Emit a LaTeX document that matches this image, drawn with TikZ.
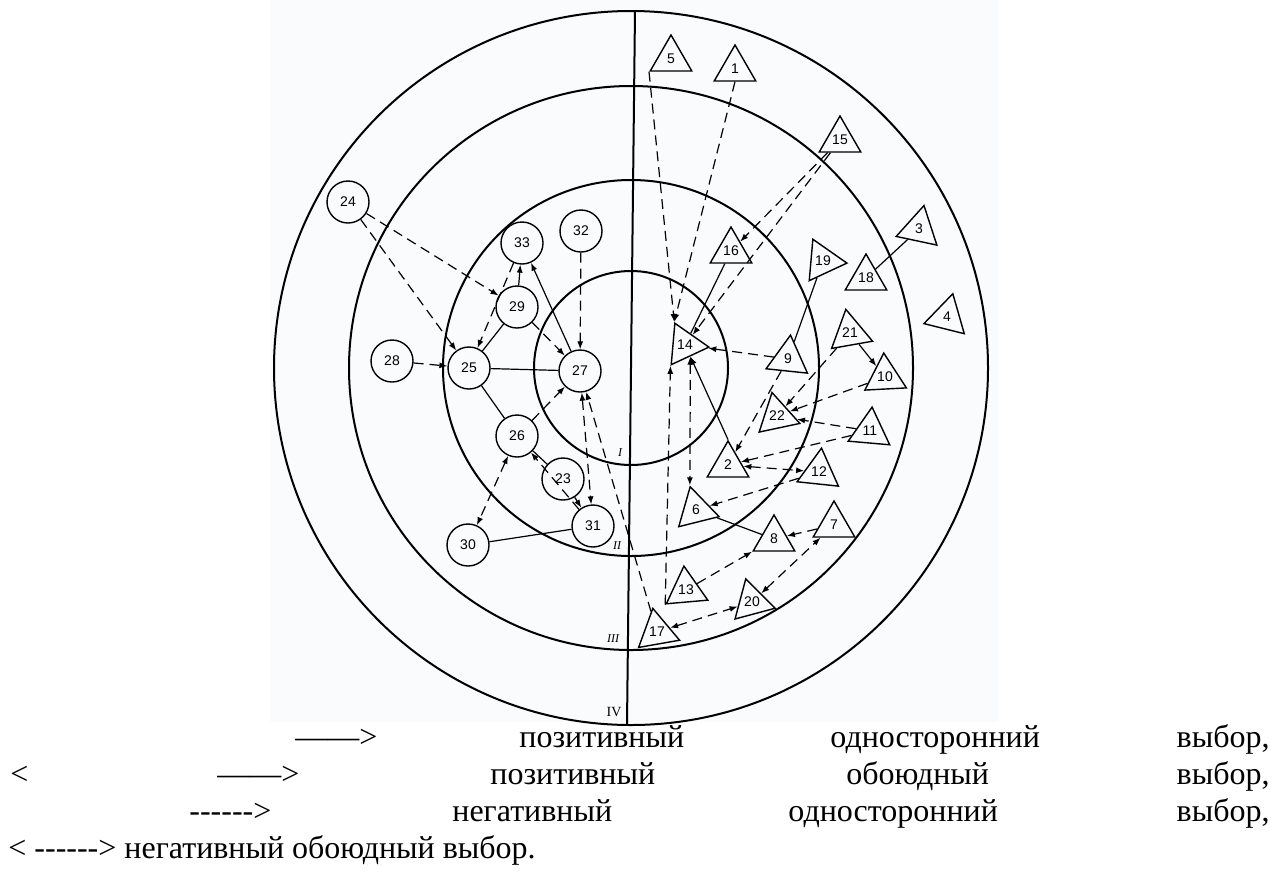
\documentclass[tikz,border=0pt]{standalone}
\usepackage{fontspec}
\setmainfont{Liberation Serif}
\newfontfamily\numfont{Liberation Sans}
\usetikzlibrary{arrows.meta,shapes.geometric}
\definecolor{ScanBg}{HTML}{FAFBFC}
\newcommand{\hyph}{-\kern0pt-\kern0pt-\kern0pt-\kern0pt-\kern0pt-\kern0pt>}

\begin{document}
\begin{tikzpicture}[x=0.5pt, y=-0.5pt,
  cnode/.style={circle, draw, line width=0.7pt, minimum size=21pt,
                inner sep=0pt, font=\numfont\fontsize{7}{8}\selectfont},
  tnode/.style={regular polygon, regular polygon sides=3, draw,
                line width=0.7pt, minimum size=24pt, inner sep=0pt,
                shape border rotate=#1, font=\numfont\fontsize{7}{8}\selectfont},
  tnode/.default=0,
  ring/.style={line width=1pt},
  posline/.style={line width=0.6pt},
  negline/.style={line width=0.6pt, dash pattern=on 5pt off 3pt},
  zone/.style={font=\itshape\fontsize{6}{7}\selectfont, inner sep=0pt},
  legend/.style={font=\fontsize{16}{18}\selectfont, inner sep=0pt, anchor=base west},
  >={Latex[length=4pt, width=3pt]}
]
  \useasboundingbox (0,0) rectangle (1273,879);
  \fill[ScanBg] (270,0) rectangle (998,722);

  % zones
  \coordinate (C) at (631,368);
  \draw[ring] (C) circle (97);
  \draw[ring] (C) circle (188);
  \draw[ring] (C) circle (282);
  \draw[ring] (C) circle (357);
  \coordinate (top) at (635,11);
  \coordinate (bot) at (627,724);
  \draw[ring] (top) -- (bot);
  \node[zone] (zI) at (620,453) {I};
  \node[zone] (zII) at (617,546) {II};
  \node[zone] (zIII) at (613,639) {III};
  \node[zone, font=\fontsize{7}{8}\selectfont] (zIV) at (614,712) {IV};

  % circles
  \node[cnode] (c24) at (348,202) {24};
  \node[cnode] (c32) at (581,231) {32};
  \node[cnode] (c33) at (522,243) {33};
  \node[cnode] (c29) at (517,307) {29};
  \node[cnode] (c28) at (392,361) {28};
  \node[cnode] (c25) at (469,368) {25};
  \node[cnode] (c27) at (580,371) {27};
  \node[cnode] (c26) at (517,436) {26};
  \node[cnode] (c23) at (563,479) {23};
  \node[cnode] (c31) at (593,526) {31};
  \node[cnode] (c30) at (468,545) {30};

  % triangles
  \node[tnode] (t5) at (671,59) {5};
  \node[tnode] (t1) at (735,69) {1};
  \node[tnode] (t15) at (840,140) {15};
  \node[tnode] (t16) at (731,251) {16};
  \node[tnode=-12] (t3) at (919,229) {3};
  \node[tnode] (t18) at (866,278) {18};
  \node[tnode=-95] (t19) at (823,261) {19};
  \node[tnode=-14] (t4) at (947,317) {4};
  \node[tnode=-95] (t14) at (685,345) {14};
  \node[tnode=-6] (t9) at (788,359) {9};
  \node[tnode=10] (t21) at (850,333) {21};
  \node[tnode=3] (t10) at (885,377) {10};
  \node[tnode=12] (t22) at (777,416) {22};
  \node[tnode=-5] (t11) at (870,431) {11};
  \node[tnode] (t2) at (728,465) {2};
  \node[tnode=-6] (t12) at (819,472) {12};
  \node[tnode=14] (t6) at (696,510) {6};
  \node[tnode] (t8) at (774,539) {8};
  \node[tnode] (t7) at (834,525) {7};
  \node[tnode=5] (t13) at (686,590) {13};
  \node[tnode=15] (t20) at (752,602) {20};
  \node[tnode=10] (t17) at (657,632) {17};

  % choices among circles
  \draw[negline, ->] (c24) -- (c29);
  \draw[negline, ->] (c24) -- (c25);
  \draw[negline, ->] (c28) -- (c25);
  \draw[negline, ->] (c33) -- (c25);
  \draw[posline, ->] (c29) -- (c33);
  \draw[posline, ->] (c27) -- (c33);
  \draw[posline] (c25) -- (c29);
  \draw[negline, ->] (c29) -- (c27);
  \draw[negline, ->] (c32) -- (c27);
  \draw[posline] (c25) -- (c27);
  \draw[posline] (c25) -- (c26);
  \draw[negline, ->] (c26) -- (c27);
  \draw[posline] (c26) -- (c23);
  \draw[posline, ->] (c23) -- (c31);
  \draw[negline, ->] (c31) -- (c26);
  \draw[negline, <->] (c26) -- (c30);
  \draw[posline] (c30) -- (c31);
  \draw[negline, <->] (c27) -- (c31);
  \draw[negline, ->] (t17) -- (c27);

  % choices among triangles
  \draw[negline, ->] (t5.corner 2) -- (t14.corner 2);
  \draw[negline, ->] (t1.side 2) -- (t14.corner 2);
  \draw[negline, ->] (t15) -- (t16);
  \draw[negline, ->] (t15) -- (t14);
  \draw[posline] (t16) -- (t14);
  \draw[negline, ->] (t9) -- (t14);
  \draw[posline, ->] (t2.corner 1) -- (t14.side 3);
  \draw[negline, ->] (t13.corner 2) -- (t14.corner 3);
  \draw[negline, <->] (t14.side 3) -- (t6.corner 1);
  \draw[posline] (t19) -- (t9);
  \draw[posline] (t18) -- (t3);
  \draw[negline, ->] (t9) -- (t2);
  \draw[posline, ->] (t21) -- (t10);
  \draw[negline, ->] (t21) -- (t22);
  \draw[negline, ->] (t10) -- (t22);
  \draw[negline, ->] (t11) -- (t22);
  \draw[negline, ->] (t11) -- (t2);
  \draw[negline, <->] (t2) -- (t12);
  \draw[negline, ->] (t12) -- (t6);
  \draw[posline] (t6) -- (t8);
  \draw[negline, ->] (t7) -- (t8);
  \draw[negline, ->] (t13) -- (t8);
  \draw[negline, <->] (t20) -- (t7);
  \draw[negline, <->] (t17) -- (t20);

  % legend
  \node[legend] (l1a) at (295,747) {——>};
  \node[legend] (l1b) at (519,747) {позитивный};
  \node[legend] (l1c) at (830,747) {односторонний};
  \node[legend, anchor=base east] (l1d) at (1270,747) {выбор,};
  \node[legend] (l2a) at (10,784) {<};
  \node[legend] (l2b) at (217,784) {——>};
  \node[legend] (l2c) at (490,784) {позитивный};
  \node[legend] (l2d) at (846,784) {обоюдный};
  \node[legend, anchor=base east] (l2e) at (1270,784) {выбор,};
  \node[legend] (l3a) at (189,821) {\hyph};
  \node[legend] (l3b) at (452,821) {негативный};
  \node[legend] (l3c) at (788,821) {односторонний};
  \node[legend, anchor=base east] (l3d) at (1270,821) {выбор,};
  \node[legend] (l4) at (8,858) {< \hyph{} негативный обоюдный выбор.};
\end{tikzpicture}
\end{document}
